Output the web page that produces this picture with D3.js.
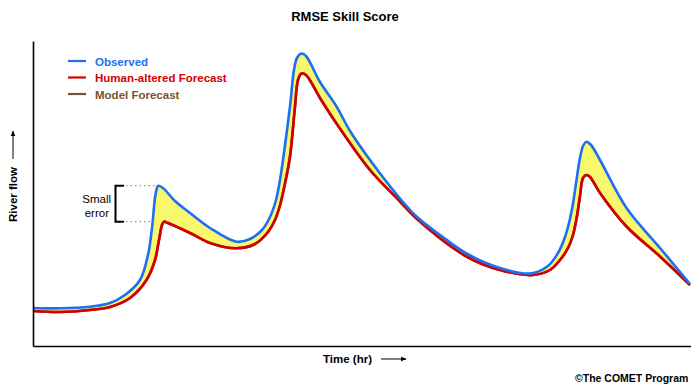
<!DOCTYPE html>
<html>
<head>
<meta charset="utf-8">
<script src="https://cdn.jsdelivr.net/npm/d3@7"></script>
<style>
  html, body { margin: 0; padding: 0; background: #ffffff; }
  svg { display: block; font-family: "Liberation Sans", Arial, sans-serif; }
</style>
</head>
<body>
<svg id="chart" width="691" height="392"></svg>
<script>
// ---- Data (time in hours, flow in arbitrary units) ----
const obsTime = [0, 5.4, 11.4, 15.4, 18.4, 21.4, 23, 23.8, 24.4, 24.8, 25.1, 26, 28.4, 31.4, 35.4, 40.7, 43.4, 45.8, 47.4, 48.6, 49.4, 50.1, 51.4, 52.2, 52.8, 53.7, 54.6, 57.4, 60.7, 63.4, 67.4, 73.4, 76.7, 81.4, 86.7, 93.4, 99.4, 103, 105, 106.3, 107.3, 108, 108.7, 109.4, 110, 110.7, 111.6, 113.4, 118.7, 125.4, 131.4];
const obsFlow = [7.6, 7.54, 7.86, 8.6, 10.2, 13.2, 18.2, 23.6, 29.6, 31.6, 32.06, 31.6, 29, 26.6, 23.6, 20.86, 21.4, 23.2, 25.8, 29.2, 33.2, 37.9, 47.9, 55.2, 57.6, 58.5, 58, 52.8, 47.9, 43, 37.2, 29.5, 25.9, 22.2, 18.5, 15.6, 14.5, 16, 18.6, 21.5, 25, 28.5, 33.2, 37.6, 40, 40.86, 40.2, 37.2, 27.6, 19.6, 12.4];

const humanTime = [0, 5.4, 11.4, 15.4, 19.4, 22.7, 24.4, 25.2, 25.8, 26.2, 27, 31.4, 35.4, 40.7, 44.4, 47, 48.4, 49.5, 50.5, 51.4, 52.4, 53, 53.7, 54.6, 57.4, 60.7, 67.4, 73.4, 76.7, 86.7, 93.4, 100, 103.4, 105.4, 107, 108, 108.8, 109.4, 110, 110.7, 111.4, 113.4, 118.7, 125.4, 131.4];
const humanFlow = [7, 6.8, 7.2, 7.8, 9.6, 13.2, 17.2, 21.2, 24.2, 24.86, 24.6, 22.6, 20.6, 19.54, 20.4, 22.8, 25.2, 28.5, 33, 37.9, 47.9, 53.2, 54.5, 54.2, 49.6, 44.5, 35.2, 28.9, 25.5, 17.9, 15.2, 14.2, 15.2, 17.2, 19.6, 22.2, 26, 30, 33.6, 34.2, 33.8, 30.6, 23.9, 17.9, 12.2];

const modelTime = [0, 5.4, 11.4, 15.4, 19.4, 22.7, 24.4, 25.2, 25.8, 26.2, 27, 31.4, 35.4, 40.7, 44.4, 47, 48.4, 49.5, 50.5, 51.4, 52.4, 53, 53.7, 54.6, 57.4, 60.7, 67.4, 73.4, 76.7, 86.7, 93.4, 100, 103.4, 105.4, 107, 108, 108.8, 109.4, 110, 110.7, 111.4, 113.4, 118.7, 125.4, 131.4];
const modelFlow = [7, 6.8, 7.2, 7.8, 9.6, 13.2, 17.2, 21.2, 24.2, 24.86, 24.6, 22.6, 20.6, 19.54, 20.4, 22.8, 25.2, 28.5, 33, 37.9, 47.9, 53.2, 54.5, 54.2, 49.6, 44.5, 35.2, 28.9, 25.5, 17.9, 15.2, 14.2, 15.2, 17.2, 19.6, 22.2, 26, 30, 33.6, 34.2, 33.8, 30.6, 23.9, 17.9, 12.2];

const seriesNames = ["Observed", "Human-altered Forecast", "Model Forecast"];
const seriesColors = ["#1a6ff5", "#d40000", "#7a5230"];

// ---- Layout ----
const svg = d3.select("#chart");
const W = 691, H = 392;
const margin = { left: 33, right: 0, top: 41, bottom: 46 };

const x = d3.scaleLinear().domain([0, 131.6]).range([margin.left, W - margin.right]);
const y = d3.scaleLinear().domain([0, 61]).range([H - margin.bottom, margin.top]);

const zip = (t, v) => t.map((d, i) => ({ t: d, v: v[i] }));
const obs = zip(obsTime, obsFlow);
const human = zip(humanTime, humanFlow);
const model = zip(modelTime, modelFlow);

const curve = d3.curveCatmullRom.alpha(0.5);

// Yellow band between observed and forecast: fill under observed, then mask under forecast
const areaGen = d3.area().x(d => x(d.t)).y0(y(0)).y1(d => y(d.v)).curve(curve);
svg.append("path").datum(obs).attr("d", areaGen).attr("fill", "#f9f86c");
svg.append("path").datum(human).attr("d", areaGen).attr("fill", "#ffffff");

const lineGen = d3.line().x(d => x(d.t)).y(d => y(d.v)).curve(curve);
svg.append("path").datum(model).attr("d", lineGen)
  .attr("fill", "none").attr("stroke", seriesColors[2]).attr("stroke-width", 2.6);
svg.append("path").datum(human).attr("d", lineGen)
  .attr("fill", "none").attr("stroke", seriesColors[1]).attr("stroke-width", 2.6);
svg.append("path").datum(obs).attr("d", lineGen)
  .attr("fill", "none").attr("stroke", seriesColors[0]).attr("stroke-width", 2.6);

// Axes (lines only)
svg.append("g").attr("transform", `translate(0,${y(0)})`)
  .call(d3.axisBottom(x).tickValues([]).tickSizeOuter(0))
  .call(g => g.select(".domain").attr("stroke", "#000").attr("stroke-width", 1.6));
svg.append("g").attr("transform", `translate(${x(0)},0)`)
  .call(d3.axisLeft(y).tickValues([]).tickSizeOuter(0))
  .call(g => g.select(".domain").attr("stroke", "#000").attr("stroke-width", 1.6));

// Title
svg.append("text").attr("x", 345).attr("y", 21).attr("text-anchor", "middle")
  .attr("font-size", 13).attr("font-weight", "bold").attr("fill", "#000")
  .text("RMSE Skill Score");

// Legend
const legend = svg.append("g");
seriesNames.forEach((name, i) => {
  const yy = 61 + i * 16.5;
  legend.append("line").attr("x1", 68).attr("x2", 86).attr("y1", yy).attr("y2", yy)
    .attr("stroke", seriesColors[i]).attr("stroke-width", 2.2);
  legend.append("text").attr("x", 95).attr("y", yy + 4.5)
    .attr("font-size", 11.5).attr("font-weight", "bold").attr("fill", seriesColors[i])
    .text(name);
});

// Small error annotation (spans observed vs forecast peak of first event)
const obsPk = obs[10], humPk = human[9];
const yTop = y(obsPk.v), yBot = y(humPk.v);
svg.append("path")
  .attr("d", `M124,${yTop} H115.5 V${yBot} H124`)
  .attr("fill", "none").attr("stroke", "#000").attr("stroke-width", 2);
[yTop, yBot].forEach(yy => {
  svg.append("line").attr("x1", 126).attr("x2", x(obsPk.t) - 4).attr("y1", yy).attr("y2", yy)
    .attr("stroke", "#999").attr("stroke-width", 1.2).attr("stroke-dasharray", "1.5,3");
});
svg.append("text").attr("x", 111).attr("y", 203).attr("text-anchor", "end")
  .attr("font-size", 11.5).attr("fill", "#000").text("Small");
svg.append("text").attr("x", 109).attr("y", 216.5).attr("text-anchor", "end")
  .attr("font-size", 11.5).attr("fill", "#000").text("error");

// Arrow marker
svg.append("defs").append("marker").attr("id", "arr")
  .attr("viewBox", "0 0 10 10").attr("refX", 9).attr("refY", 5)
  .attr("markerWidth", 6).attr("markerHeight", 6).attr("markerUnits", "userSpaceOnUse")
  .attr("orient", "auto")
  .append("path").attr("d", "M0,1 L10,5 L0,9 Z").attr("fill", "#000");

// X axis label
svg.append("text").attr("x", 323).attr("y", 363)
  .attr("font-size", 11.5).attr("font-weight", "bold").attr("fill", "#000").text("Time (hr)");
svg.append("line").attr("x1", 381).attr("x2", 406).attr("y1", 359).attr("y2", 359)
  .attr("stroke", "#000").attr("stroke-width", 1).attr("marker-end", "url(#arr)");

// Y axis label
svg.append("text").attr("transform", "translate(17,222) rotate(-90)")
  .attr("font-size", 11.5).attr("font-weight", "bold").attr("fill", "#000").text("River flow");
svg.append("line").attr("x1", 13).attr("x2", 13).attr("y1", 159).attr("y2", 131)
  .attr("stroke", "#000").attr("stroke-width", 1).attr("marker-end", "url(#arr)");

// Credit
svg.append("text").attr("x", 575).attr("y", 382)
  .attr("font-size", 10.5).attr("font-weight", "bold").attr("fill", "#000").text("©The COMET Program");
</script>
</body>
</html>
